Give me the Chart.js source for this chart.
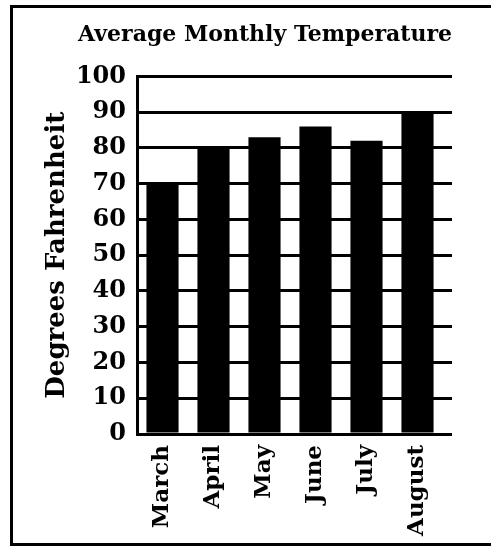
<!DOCTYPE html>
<html>
<head>
<meta charset="utf-8">
<title>Average Monthly Temperature</title>
<script src="https://cdn.jsdelivr.net/npm/chart.js@4.4.1/dist/chart.umd.min.js"></script>
<style>
  html, body { margin: 0; padding: 0; background: #fff; overflow: hidden; }
  .box { position: absolute; left: 0; top: 0; width: 491px; height: 548px; }
</style>
</head>
<body>
<div class="box"><canvas id="grafico"></canvas></div>
<script>
// dados
const months = ["March", "April", "May", "June", "July", "August"];
const temps = [70, 80, 83, 86, 82, 90];
const yMin = 0;
const yMax = 100;
const yStep = 10;

const FONT = "'DejaVu Serif', serif";

// moldura: esquerda, topo e base (a direita fica fora da imagem)
const moldura = {
  id: "moldura",
  beforeDraw(chart) {
    const c = chart.ctx;
    const w = chart.width;
    c.save();
    c.fillStyle = "#000";
    c.fillRect(10, 5, w - 10, 3);   // topo
    c.fillRect(10, 5, 3, 541);      // esquerda
    c.fillRect(10, 543, w - 10, 3); // base
    c.restore();
  }
};

document.addEventListener("DOMContentLoaded", () => {
  const ctx = document.getElementById("grafico");

  new Chart(ctx, {
    type: "bar",
    data: {
      labels: months,
      datasets: [{
        label: "Temperature",
        data: temps,
        backgroundColor: "#000",
        borderWidth: 0,
        categoryPercentage: 1,
        barPercentage: 0.63
      }]
    },
    options: {
      responsive: true,
      maintainAspectRatio: false,
      animation: false,
      layout: { padding: { left: 39, right: 39, top: 0, bottom: 0 } },
      plugins: {
        legend: { display: false },
        tooltip: { enabled: false },
        title: {
          display: true,
          text: "Average Monthly Temperature",
          align: "end",
          color: "#000",
          font: { family: FONT, size: 22, weight: "bold" },
          padding: { top: 22, bottom: 28 }
        }
      },
      scales: {
        x: {
          grid: { display: false },
          border: { display: false },
          ticks: {
            color: "#000",
            font: { family: FONT, size: 23, weight: "bold" },
            minRotation: 90,
            maxRotation: 90,
            padding: 3
          },
          afterFit: s => { s.height = 114; }
        },
        y: {
          min: yMin,
          max: yMax,
          ticks: {
            stepSize: yStep,
            color: "#000",
            padding: 11,
            font: { family: FONT, size: 24, weight: "bold" }
          },
          grid: { color: "#000", lineWidth: 3, drawTicks: false },
          border: { display: true, color: "#000", width: 3 },
          title: {
            display: true,
            text: "Degrees Fahrenheit",
            color: "#000",
            font: { family: FONT, size: 26, weight: "bold" },
            padding: { top: 3, bottom: 4 }
          },
          afterFit: s => { s.width = 98; }
        },
        // tracinhos que passam da área do gráfico à direita
        y2: {
          position: "right",
          min: yMin,
          max: yMax,
          ticks: { stepSize: yStep, display: false },
          grid: { color: "#000", lineWidth: 3, drawOnChartArea: false, tickLength: 9 },
          border: { display: false }
        }
      }
    },
    plugins: [moldura]
  });
});
</script>
</body>
</html>
